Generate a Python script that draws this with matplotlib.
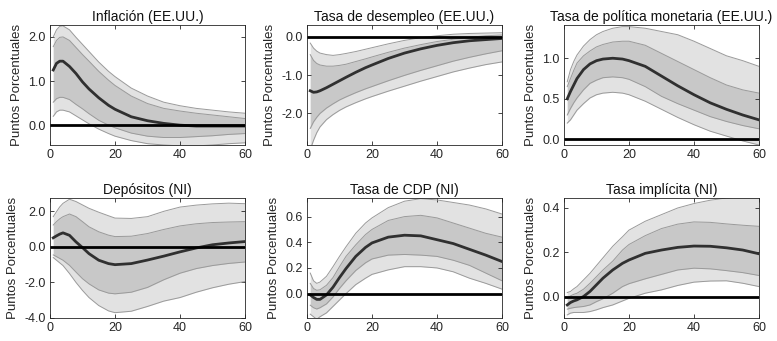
import matplotlib
matplotlib.use("Agg")
import matplotlib.pyplot as plt

plt.rcParams['font.family'] = ['Liberation Sans', 'DejaVu Sans']

# horizons (months)
h = [1, 2, 3, 4, 6, 8, 10, 12, 15, 18, 20, 25, 30, 35, 40, 45, 50, 55, 60]

titles = ['Inflación (EE.UU.)', 'Tasa de desempleo (EE.UU.)', 'Tasa de política monetaria (EE.UU.)',
          'Depósitos (NI)', 'Tasa de CDP (NI)', 'Tasa implícita (NI)']

# Inflacion EE.UU.
infl_mean = [1.25, 1.40, 1.45, 1.45, 1.33, 1.17, 0.98, 0.82, 0.62, 0.45, 0.36, 0.19, 0.10, 0.04, 0.0, -0.02, -0.02, -0.02, -0.02]
infl_hi68 = [1.78, 1.92, 1.99, 2.0, 1.92, 1.76, 1.60, 1.45, 1.22, 1.02, 0.90, 0.66, 0.49, 0.38, 0.32, 0.27, 0.23, 0.19, 0.15]
infl_hi90 = [2.0, 2.16, 2.24, 2.25, 2.16, 1.99, 1.83, 1.67, 1.43, 1.22, 1.10, 0.84, 0.66, 0.52, 0.44, 0.38, 0.34, 0.30, 0.27]
infl_lo68 = [0.52, 0.60, 0.63, 0.63, 0.58, 0.47, 0.37, 0.26, 0.11, 0.0, -0.06, -0.18, -0.25, -0.28, -0.28, -0.26, -0.24, -0.21, -0.19]
infl_lo90 = [0.20, 0.30, 0.34, 0.34, 0.30, 0.21, 0.12, 0.03, -0.09, -0.19, -0.25, -0.35, -0.42, -0.45, -0.47, -0.47, -0.45, -0.42, -0.40]

# Desempleo EE.UU.
des_mean = [-1.41, -1.45, -1.44, -1.41, -1.33, -1.24, -1.15, -1.06, -0.93, -0.81, -0.74, -0.57, -0.43, -0.32, -0.23, -0.16, -0.11, -0.08, -0.05]
des_hi68 = [-0.47, -0.62, -0.70, -0.74, -0.77, -0.77, -0.75, -0.72, -0.65, -0.58, -0.53, -0.41, -0.30, -0.21, -0.13, -0.07, -0.02, 0.02, 0.04]
des_hi90 = [-0.17, -0.30, -0.38, -0.43, -0.47, -0.49, -0.47, -0.44, -0.39, -0.33, -0.29, -0.19, -0.10, -0.03, 0.02, 0.06, 0.08, 0.09, 0.10]
des_lo68 = [-2.39, -2.22, -2.10, -2.00, -1.86, -1.75, -1.65, -1.57, -1.46, -1.36, -1.30, -1.15, -1.01, -0.88, -0.76, -0.64, -0.54, -0.45, -0.37]
des_lo90 = [-2.95, -2.70, -2.50, -2.35, -2.16, -2.03, -1.92, -1.83, -1.72, -1.62, -1.56, -1.42, -1.29, -1.16, -1.04, -0.92, -0.82, -0.73, -0.66]

# Tasa de politica monetaria EE.UU.
tpm_mean = [0.50, 0.59, 0.67, 0.75, 0.86, 0.93, 0.97, 0.99, 1.0, 0.99, 0.97, 0.90, 0.78, 0.66, 0.55, 0.45, 0.37, 0.30, 0.24]
tpm_hi68 = [0.65, 0.75, 0.85, 0.94, 1.03, 1.09, 1.14, 1.17, 1.20, 1.21, 1.21, 1.16, 1.06, 0.96, 0.86, 0.76, 0.67, 0.61, 0.57]
tpm_hi90 = [0.71, 0.86, 0.96, 1.04, 1.15, 1.23, 1.29, 1.33, 1.37, 1.39, 1.39, 1.37, 1.33, 1.29, 1.21, 1.12, 1.03, 0.97, 0.90]
tpm_lo68 = [0.30, 0.38, 0.45, 0.51, 0.61, 0.69, 0.73, 0.76, 0.77, 0.76, 0.74, 0.65, 0.53, 0.44, 0.36, 0.28, 0.22, 0.17, 0.13]
tpm_lo90 = [0.20, 0.24, 0.30, 0.36, 0.44, 0.51, 0.55, 0.57, 0.58, 0.57, 0.55, 0.47, 0.37, 0.27, 0.18, 0.10, 0.04, -0.02, -0.07]

# Depositos NI
dep_mean = [0.51, 0.62, 0.72, 0.79, 0.65, 0.28, -0.04, -0.38, -0.75, -0.94, -1.0, -0.94, -0.74, -0.52, -0.28, -0.06, 0.12, 0.22, 0.30]
dep_hi68 = [1.23, 1.42, 1.58, 1.70, 1.85, 1.70, 1.42, 1.13, 0.85, 0.66, 0.58, 0.60, 0.75, 0.98, 1.18, 1.30, 1.37, 1.40, 1.42]
dep_hi90 = [1.70, 1.98, 2.25, 2.45, 2.68, 2.55, 2.36, 2.17, 1.95, 1.75, 1.62, 1.60, 1.70, 2.00, 2.24, 2.35, 2.42, 2.46, 2.43]
dep_lo68 = [-0.45, -0.55, -0.65, -0.75, -1.04, -1.42, -1.79, -2.08, -2.42, -2.60, -2.64, -2.55, -2.28, -1.85, -1.48, -1.22, -1.05, -0.93, -0.85]
dep_lo90 = [-0.60, -0.75, -0.90, -1.05, -1.50, -2.00, -2.45, -2.85, -3.30, -3.60, -3.70, -3.62, -3.35, -3.05, -2.85, -2.55, -2.30, -2.10, -1.95]

# Tasa de CDP NI
cdp_mean = [-0.01, -0.03, -0.045, -0.045, -0.01, 0.05, 0.125, 0.195, 0.29, 0.36, 0.395, 0.44, 0.455, 0.45, 0.42, 0.39, 0.345, 0.30, 0.25]
cdp_hi68 = [0.08, 0.04, 0.026, 0.03, 0.065, 0.125, 0.21, 0.29, 0.38, 0.46, 0.50, 0.57, 0.60, 0.61, 0.59, 0.55, 0.51, 0.47, 0.44]
cdp_hi90 = [0.16, 0.10, 0.08, 0.09, 0.135, 0.21, 0.29, 0.365, 0.47, 0.55, 0.59, 0.67, 0.72, 0.74, 0.73, 0.71, 0.69, 0.66, 0.62]
cdp_lo68 = [-0.09, -0.11, -0.12, -0.11, -0.08, -0.026, 0.04, 0.10, 0.18, 0.24, 0.27, 0.30, 0.305, 0.30, 0.29, 0.26, 0.22, 0.16, 0.10]
cdp_lo90 = [-0.16, -0.18, -0.20, -0.18, -0.15, -0.10, -0.05, 0.0, 0.07, 0.12, 0.15, 0.185, 0.21, 0.21, 0.20, 0.17, 0.12, 0.08, 0.035]

# Tasa implicita NI
imp_mean = [-0.038, -0.027, -0.02, -0.015, 0.0, 0.023, 0.053, 0.083, 0.12, 0.15, 0.165, 0.195, 0.21, 0.222, 0.228, 0.227, 0.22, 0.21, 0.193]
imp_hi68 = [-0.008, 0.003, 0.01, 0.015, 0.033, 0.06, 0.09, 0.12, 0.16, 0.21, 0.235, 0.275, 0.307, 0.327, 0.337, 0.335, 0.328, 0.322, 0.317]
imp_hi90 = [0.018, 0.023, 0.035, 0.045, 0.075, 0.105, 0.14, 0.175, 0.227, 0.27, 0.30, 0.34, 0.37, 0.40, 0.42, 0.435, 0.445, 0.45, 0.45]
imp_lo68 = [-0.057, -0.053, -0.05, -0.048, -0.045, -0.038, -0.023, -0.01, 0.015, 0.045, 0.058, 0.08, 0.10, 0.12, 0.128, 0.125, 0.117, 0.108, 0.095]
imp_lo90 = [-0.083, -0.075, -0.072, -0.072, -0.072, -0.068, -0.06, -0.05, -0.038, -0.02, -0.008, 0.015, 0.03, 0.05, 0.065, 0.07, 0.071, 0.06, 0.045]

series = [
    (infl_mean, infl_hi68, infl_hi90, infl_lo68, infl_lo90),
    (des_mean, des_hi68, des_hi90, des_lo68, des_lo90),
    (tpm_mean, tpm_hi68, tpm_hi90, tpm_lo68, tpm_lo90),
    (dep_mean, dep_hi68, dep_hi90, dep_lo68, dep_lo90),
    (cdp_mean, cdp_hi68, cdp_hi90, cdp_lo68, cdp_lo90),
    (imp_mean, imp_hi68, imp_hi90, imp_lo68, imp_lo90),
]

ylims = [(-0.45, 2.27), (-2.82, 0.3), (-0.07, 1.41), (-4.0, 2.75), (-0.19, 0.745), (-0.097, 0.445)]
yticks = [[0, 1, 2], [-2, -1, 0], [0, 0.5, 1.0], [-4, -2, 0, 2], [0, 0.2, 0.4, 0.6], [0, 0.2, 0.4]]

lefts = [50 / 777, 307 / 777, 564 / 777]
bottoms = [1 - 145 / 341, 1 - 318 / 341]
w = 195 / 777
hgt = 120 / 341

fig = plt.figure(figsize=(7.77, 3.41), dpi=100)

for i in range(6):
    ax = fig.add_axes([lefts[i % 3], bottoms[i // 3], w, hgt])
    m, hi68, hi90, lo68, lo90 = series[i]
    ax.fill_between(h, lo90, hi90, color='#e2e2e2', lw=0)
    ax.fill_between(h, lo68, hi68, color='#c8c8c8', lw=0)
    for s in (hi90, lo90, hi68, lo68):
        ax.plot(h, s, color='#9a9a9a', lw=0.7)
    ax.plot(h, m, color='#303030', lw=2)
    ax.axhline(0, color='black', lw=2)
    ax.set_xlim(0, 60)
    ax.set_ylim(*ylims[i])
    ax.set_xticks([0, 20, 40, 60])
    ax.set_yticks(yticks[i])
    ax.yaxis.set_major_formatter(matplotlib.ticker.FormatStrFormatter('%.1f'))
    ax.tick_params(direction='in', length=3, width=0.6, top=True, right=True,
                   labelsize=9, colors='#262626', pad=3)
    for sp in ax.spines.values():
        sp.set_color('#262626')
        sp.set_linewidth(0.6)
    ax.set_title(titles[i], fontsize=10, pad=3, color='#111111')
    ax.set_ylabel('Puntos Porcentuales', fontsize=9.5, color='#262626')

fig.savefig('out.png', dpi=100)
